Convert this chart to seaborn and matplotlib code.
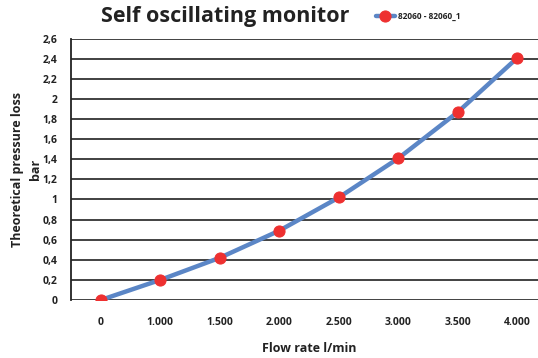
import matplotlib
matplotlib.use("Agg")
from matplotlib import pyplot as plt
import pandas as pd
import seaborn as sns

flow_labels = ["0", "1.000", "1.500", "2.000", "2.500", "3.000", "3.500", "4.000"]
pressure = [0.0, 0.20, 0.42, 0.69, 1.02, 1.41, 1.87, 2.41]
series_name = "82060 - 82060_1"
y_ticks = [0, 0.2, 0.4, 0.6, 0.8, 1, 1.2, 1.4, 1.6, 1.8, 2, 2.2, 2.4, 2.6]

df = pd.DataFrame({"flow": flow_labels, "pressure": pressure})

sns.set_style("white")
plt.rcParams["font.family"] = ["Open Sans", "DejaVu Sans"]

fig = plt.figure(figsize=(5.38, 3.58), dpi=100)
ax = fig.add_axes([0.132, 0.162, 0.885, 0.730])

sns.lineplot(data=df, x="flow", y="pressure", ax=ax, color="#5b86c6",
             linewidth=3.2, marker="o", markersize=8, markerfacecolor="#ee3030",
             markeredgecolor="#ee3030", label=series_name, sort=False)

ax.set_xlim(-0.5, 7.5)
ax.set_ylim(0, 2.6)
ax.set_yticks(y_ticks)
ax.set_yticklabels([f"{t:g}".replace(".", ",") for t in y_ticks],
                   fontsize=7.5, fontweight="bold", color="#222222")
ax.tick_params(axis="y", length=4, width=1.2, color="#222222", pad=6)
ax.tick_params(axis="x", length=0, pad=12)
for lbl in ax.get_xticklabels():
    lbl.set_fontsize(7.5)
    lbl.set_fontweight("bold")
    lbl.set_color("#222222")

ax.grid(axis="y", color="#333333", linewidth=1.3)
ax.set_axisbelow(True)
for side in ["top", "right", "bottom"]:
    ax.spines[side].set_visible(False)
ax.spines["left"].set_color("#222222")
ax.spines["left"].set_linewidth(1.3)

ax.set_xlabel("Flow rate l/min", fontsize=9, fontweight="bold", color="#222222", labelpad=10)
ax.set_ylabel("Theoretical pressure loss\nbar", fontsize=9, fontweight="bold",
              color="#222222", labelpad=0, linespacing=1.5)

fig.text(0.418, 0.955, "Self oscillating monitor", ha="center", va="center",
         fontsize=15.5, fontweight="bold", color="#222222")

leg = ax.legend(loc="center left", bbox_to_anchor=(0.634, 1.085), frameon=False,
                fontsize=6, handlelength=2.2, borderaxespad=0, handletextpad=0.4)
for t in leg.get_texts():
    t.set_fontweight("bold")
    t.set_color("#222222")

fig.savefig("out.png", dpi=100)
